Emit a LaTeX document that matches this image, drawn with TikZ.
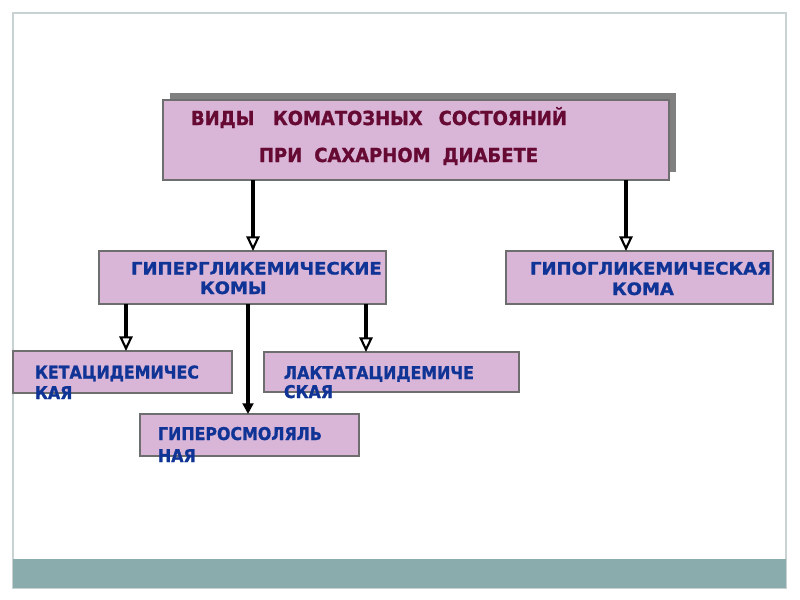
\documentclass[tikz,border=0pt]{standalone}
\usepackage{fontspec}
\setmainfont{DejaVu Sans}
\newfontfamily\fonttitle[FakeStretch=0.93, BoldFeatures={FakeBold=1.2}]{DejaVu Sans}
\newfontfamily\fontwide[FakeStretch=1.055, BoldFeatures={FakeBold=1.2}]{DejaVu Sans}
\newfontfamily\fontnarrow[FakeStretch=0.9, BoldFeatures={FakeBold=1.2}]{DejaVu Sans}
\usetikzlibrary{arrows.meta}
\definecolor{boxfill}{RGB}{217,182,215}
\definecolor{boxline}{RGB}{110,110,110}
\definecolor{shadowgray}{RGB}{128,128,128}
\definecolor{maroontext}{RGB}{102,10,52}
\definecolor{bluetext}{RGB}{16,52,150}
\definecolor{framegray}{RGB}{200,210,210}
\definecolor{bargreen}{RGB}{139,172,172}
\tikzset{
  box/.style={draw=boxline, line width=0.8pt, fill=boxfill, inner sep=0pt, outer sep=0pt},
  lbl/.style={inner sep=0pt, outer sep=0pt, font=\fontwide\fontsize{12.8pt}{15pt}\selectfont\bfseries, text=bluetext},
  lblsmall/.style={inner sep=0pt, outer sep=0pt, font=\fontnarrow\fontsize{13.2pt}{15pt}\selectfont\bfseries, text=bluetext},
  ttl/.style={inner sep=0pt, outer sep=0pt, font=\fonttitle\fontsize{14.5pt}{17pt}\selectfont\bfseries, text=maroontext},
  hollowarr/.style={line width=2.4pt, -{Triangle[open, length=11pt, width=10pt, fill=white, line width=1.6pt]}},
  solidarr/.style={line width=2.4pt, -{Triangle[length=8pt, width=8pt]}}
}
\begin{document}
\begin{tikzpicture}[x=0.75pt,y=-0.75pt]
\useasboundingbox (0,0) rectangle (800,600);
\fill[white] (0,0) rectangle (800,600);
% frame and bottom bar
\draw[framegray, line width=1.2pt] (13,13) rectangle (786,588);
\fill[bargreen] (13,559) rectangle (786,588);
% top box with shadow
\fill[shadowgray] (170,93) rectangle (676,172);
\node[box, minimum width=379.5pt, minimum height=60pt] (top) at (416,140) {};
\node[ttl, anchor=base west] (topA) at (191,125) {ВИДЫ\hspace{14pt}КОМАТОЗНЫХ\hspace{12pt}СОСТОЯНИЙ};
\node[ttl, anchor=base west] (topB) at (259,162) {ПРИ\hspace{9pt}САХАРНОМ\hspace{9pt}ДИАБЕТЕ};
% second level
\node[box, minimum width=215.25pt, minimum height=39.75pt] (hyper) at (242.5,277.5) {};
\node[lbl, anchor=base west] (hyperA) at (131,274.5) {ГИПЕРГЛИКЕМИЧЕСКИЕ};
\node[lbl, anchor=base west] (hyperB) at (200,294) {КОМЫ};
\node[box, minimum width=200.25pt, minimum height=39.75pt] (hypo) at (639.5,277.5) {};
\node[lbl, anchor=base west] (hypoA) at (530,274.5) {ГИПОГЛИКЕМИЧЕСКАЯ};
\node[lbl, anchor=base west] (hypoB) at (612,295) {КОМА};
% third level
\node[box, minimum width=164.25pt, minimum height=31.5pt] (keta) at (122.5,372) {};
\node[lblsmall, anchor=base west] (ketaA) at (35,378.5) {КЕТАЦИДЕМИЧЕС};
\node[lblsmall, anchor=base west] (ketaB) at (35,399) {КАЯ};
\node[box, minimum width=191.25pt, minimum height=30pt] (lakt) at (391.5,372) {};
\node[lblsmall, anchor=base west] (laktA) at (284,379) {ЛАКТАТАЦИДЕМИЧЕ};
\node[lblsmall, anchor=base west] (laktB) at (284,398) {СКАЯ};
\node[box, minimum width=164.25pt, minimum height=31.5pt] (osm) at (249.5,435) {};
\node[lblsmall, anchor=base west] (osmA) at (158,440) {ГИПЕРОСМОЛЯЛЬ};
\node[lblsmall, anchor=base west] (osmB) at (158,462) {НАЯ};
% arrows
\draw[hollowarr] (top.south -| 253,0) -- (hyper.north -| 253,0);
\draw[hollowarr] (top.south -| 626,0) -- (hypo.north -| 626,0);
\draw[hollowarr] (hyper.south -| 126,0) -- (keta.north -| 126,0);
\draw[hollowarr] (hyper.south -| 366,0) -- (lakt.north -| 366,0);
\draw[solidarr] (hyper.south -| 248,0) -- (osm.north -| 248,0);
\end{tikzpicture}
\end{document}
